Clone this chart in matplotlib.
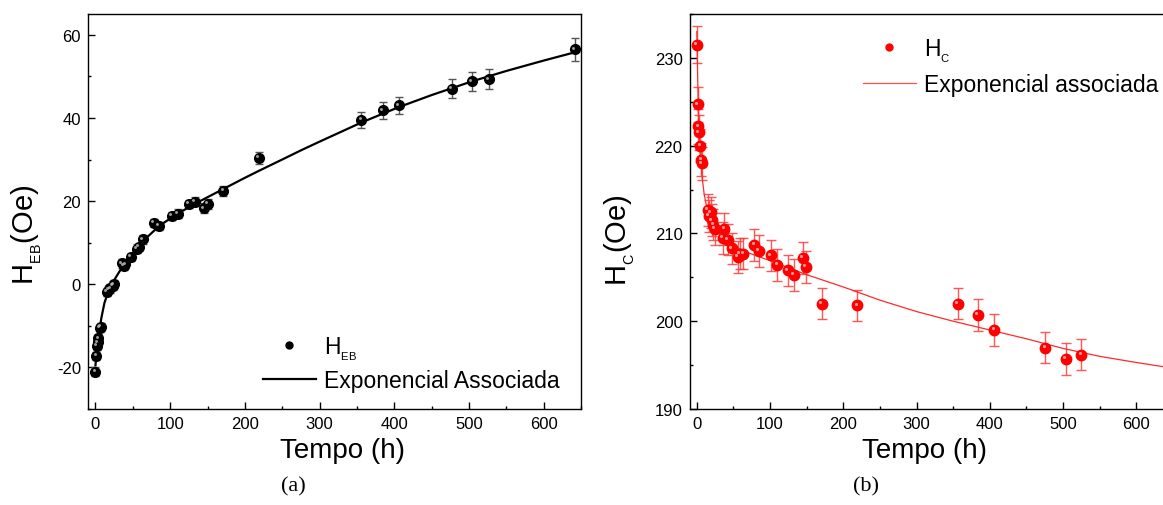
import numpy as np
import matplotlib.pyplot as plt
from matplotlib.ticker import MultipleLocator
from matplotlib.transforms import ScaledTranslation

plt.rcParams['font.family'] = ['Liberation Sans', 'DejaVu Sans']
plt.rcParams['mathtext.fontset'] = 'custom'
plt.rcParams['mathtext.rm'] = 'Liberation Sans'
plt.rcParams['mathtext.it'] = 'Liberation Sans:italic'
plt.rcParams['mathtext.bf'] = 'Liberation Sans:bold'
plt.rcParams['axes.unicode_minus'] = False

# (a) exchange bias field vs time
t_eb = [0, 1, 2, 3, 4, 6, 7, 15, 18, 20, 23, 25, 35, 38, 40, 47, 55, 58, 63,
        78, 85, 102, 110, 125, 133, 145, 150, 171, 219, 356, 385, 406, 477,
        504, 527, 642]
h_eb = [-21.0, -17.2, -14.8, -14.0, -13.0, -10.5, -10.2, -1.8, -1.2, -1.0,
        -0.3, 0.0, 5.0, 4.5, 4.8, 6.6, 8.6, 9.0, 10.8, 14.8, 14.0, 16.5, 17.0,
        19.3, 19.9, 18.3, 19.3, 22.5, 30.4, 39.5, 41.8, 43.0, 47.0, 48.8, 49.3,
        56.5]
err_eb = [1.0, 1.0, 1.0, 1.0, 1.0, 1.0, 1.0, 1.0, 1.0, 1.0, 1.0, 1.0, 1.0,
          1.0, 1.0, 1.0, 1.0, 1.0, 1.0, 1.0, 1.0, 1.0, 1.0, 1.0, 1.0, 1.2, 1.2,
          1.2, 1.5, 2.0, 2.0, 2.0, 2.3, 2.3, 2.4, 2.8]
fit_t_eb = [0, 2, 5, 8, 12, 17, 25, 35, 50, 65, 85, 110, 140, 171, 200, 219,
            250, 275, 300, 356, 406, 450, 504, 550, 600, 642]
fit_h_eb = [-19.5, -15.5, -11.5, -8.0, -4.5, -1.8, 1.0, 3.9, 7.5, 10.6, 14.0,
            17.0, 20.0, 22.9, 25.6, 27.3, 30.0, 32.2, 34.3, 38.9, 42.6, 45.5,
            48.8, 51.3, 53.8, 55.8]

# (b) coercive field vs time
t_c = [0, 1, 2, 3, 5, 6, 7, 15, 16, 19, 20.5, 22.5, 25, 35.5, 37.7, 42, 47.7,
       56, 59, 63.6, 78.6, 85, 101, 110, 124, 132.7, 144.6, 149, 171, 219, 356,
       384, 406, 476, 504, 525]
h_c = [231.5, 224.7, 222.2, 221.5, 220.0, 218.4, 218.0, 212.7, 212.0, 212.4,
       211.5, 211.0, 210.5, 209.5, 210.5, 209.3, 208.3, 207.3, 207.7, 207.7,
       208.7, 208.0, 207.5, 206.4, 205.8, 205.3, 207.2, 206.2, 202.0, 201.8,
       202.0, 200.7, 199.0, 197.0, 195.7, 196.2]
err_c = [2.1, 2.0, 2.0, 2.0, 1.9, 1.9, 1.9, 1.8, 1.8, 1.8, 1.8, 1.8, 1.8, 1.8,
         1.8, 1.8, 1.8, 1.8, 1.8, 1.8, 1.8, 1.8, 1.8, 1.8, 1.8, 1.8, 1.8, 1.8,
         1.8, 1.8, 1.8, 1.8, 1.8, 1.8, 1.8, 1.8]
fit_t_c = [0, 1, 2, 3, 5, 7.5, 10, 13, 17, 22, 30, 40, 50, 70, 100, 150, 200,
           250, 300, 350, 400, 450, 500, 550, 600, 646]
fit_h_c = [233.0, 228.5, 224.5, 221.5, 218.5, 216.2, 214.5, 213.2, 212.0,
           211.0, 210.0, 209.2, 208.6, 207.8, 206.9, 205.3, 203.9, 202.4,
           201.1, 200.0, 199.0, 198.0, 196.9, 196.0, 195.3, 194.7]

fig = plt.figure(figsize=(11.63, 5.06), dpi=100)
W, H = 1163, 506
ax1 = fig.add_axes([88 / W, 1 - 410 / H, 493 / W, 395 / H])
ax2 = fig.add_axes([689.5 / W, 1 - 410 / H, 480.5 / W, 395 / H])


def style(ax):
    for s in ax.spines.values():
        s.set_linewidth(1.0)
    ax.tick_params(which='both', direction='in', top=False, right=False,
                   labelsize=12, pad=5)
    ax.tick_params(which='major', length=5, width=1.0)
    ax.tick_params(which='minor', length=2.5, width=1.0)


def spheres(ax, x, y, color, shine, ms):
    ax.plot(x, y, 'o', color=color, ms=ms, mec=color, zorder=3)
    off = ScaledTranslation(-1.2 / 72, 1.2 / 72, fig.dpi_scale_trans)
    ax.plot(x, y, 'o', color=shine, ms=ms * 0.3, mew=0, alpha=0.8,
            transform=ax.transData + off, zorder=4)


# panel (a)
ax1.errorbar(t_eb, h_eb, yerr=err_eb, fmt='none', ecolor='#555555',
             elinewidth=1.0, capsize=3, capthick=1.0, zorder=2)
ax1.plot(fit_t_eb, fit_h_eb, color='black', lw=1.6, zorder=2.5)
spheres(ax1, t_eb, h_eb, 'black', '#c8c8c8', 7)
ax1.set_xlim(-10, 650)
ax1.set_ylim(-30, 65)
ax1.xaxis.set_major_locator(MultipleLocator(100))
ax1.xaxis.set_minor_locator(MultipleLocator(50))
ax1.yaxis.set_major_locator(MultipleLocator(20))
ax1.yaxis.set_minor_locator(MultipleLocator(10))
style(ax1)

h1, = ax1.plot([], [], 'o', color='black', ms=5)
l1, = ax1.plot([], [], color='black', lw=1.6)
ax1.legend([h1, l1], [r'H$_{_{\mathrm{EB}}}$', 'Exponencial Associada'],
           loc='upper left', bbox_to_anchor=(263 / W, 1 - 335 / H),
           bbox_transform=fig.transFigure, frameon=False, fontsize=16.5,
           handlelength=2.3, handletextpad=0.35, labelspacing=0.32,
           borderpad=0, borderaxespad=0)

# panel (b)
ax2.errorbar(t_c, h_c, yerr=err_c, fmt='none', ecolor='#ff3b3b',
             elinewidth=1.0, capsize=3.3, capthick=1.0, alpha=0.85, zorder=2)
ax2.plot(fit_t_c, fit_h_c, color='#ff2a2a', lw=0.9, zorder=2.5)
spheres(ax2, t_c, h_c, '#ff0000', '#ffc0c0', 7.5)
ax2.set_xlim(-10, 646)
ax2.set_ylim(190, 235)
ax2.xaxis.set_major_locator(MultipleLocator(100))
ax2.xaxis.set_minor_locator(MultipleLocator(50))
ax2.yaxis.set_major_locator(MultipleLocator(10))
ax2.yaxis.set_minor_locator(MultipleLocator(5))
style(ax2)

h2, = ax2.plot([], [], 'o', color='#ff0000', ms=5)
l2, = ax2.plot([], [], color='#ff5050', lw=0.9)
ax2.legend([h2, l2], [r'H$_{_{\mathrm{C}}}$', 'Exponencial associada'],
           loc='upper left', bbox_to_anchor=(863 / W, 1 - 37 / H),
           bbox_transform=fig.transFigure, frameon=False, fontsize=16.5,
           handlelength=2.3, handletextpad=0.35, labelspacing=0.41,
           borderpad=0, borderaxespad=0)

# axis titles
fig.text(342 / W, 1 - 451 / H, 'Tempo (h)', ha='center', va='center',
         fontsize=20)
fig.text(925 / W, 1 - 451 / H, 'Tempo (h)', ha='center', va='center',
         fontsize=20)
fig.text(27 / W, 1 - 235 / H, r'H$_{_{\mathrm{EB}}}$(Oe)', ha='center',
         va='center', rotation=90, fontsize=21)
fig.text(620 / W, 1 - 240 / H, r'H$_{_{\mathrm{C}}}$(Oe)', ha='center',
         va='center', rotation=90, fontsize=21)
fig.text(293 / W, 1 - 487 / H, '(a)', ha='center', va='center',
         fontsize=16, family='Liberation Serif')
fig.text(866 / W, 1 - 487 / H, '(b)', ha='center', va='center',
         fontsize=16, family='Liberation Serif')

fig.savefig('out.png', dpi=100)
